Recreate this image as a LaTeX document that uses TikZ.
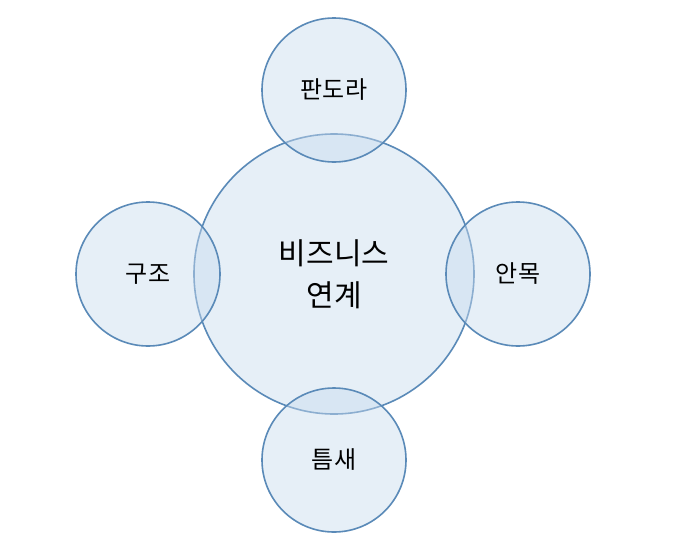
\documentclass[tikz,border=0pt]{standalone}
\usepackage{fontspec}
\newfontfamily\kr{Noto Sans CJK KR}
\definecolor{edge}{HTML}{5A8AB8}
\definecolor{bfill}{HTML}{C9DCEF}
\begin{document}
\begin{tikzpicture}[x=1pt,y=-1pt,
  bub/.style={circle,draw=edge,line width=1.6pt,fill=bfill,fill opacity=0.45,text opacity=1,font=\kr},
  bigb/.style={bub,font=\kr\fontsize{30}{42}\selectfont,align=center},
  smallb/.style={bub,font=\kr\fontsize{24}{28}\selectfont}]
\useasboundingbox (0,0) rectangle (680,552);
\fill[white] (0,0) rectangle (680,552);
\node[bigb,minimum size=280pt] (c) at (334,274) {비즈니스\\연계};
\node[smallb,minimum size=144pt] (t) at (334,90) {판도라};
\node[smallb,minimum size=144pt] (l) at (148,274) {구조};
\node[smallb,minimum size=144pt] (r) at (518,274) {안목};
\node[smallb,minimum size=144pt] (b) at (334,460) {틈새};
\end{tikzpicture}
\end{document}
